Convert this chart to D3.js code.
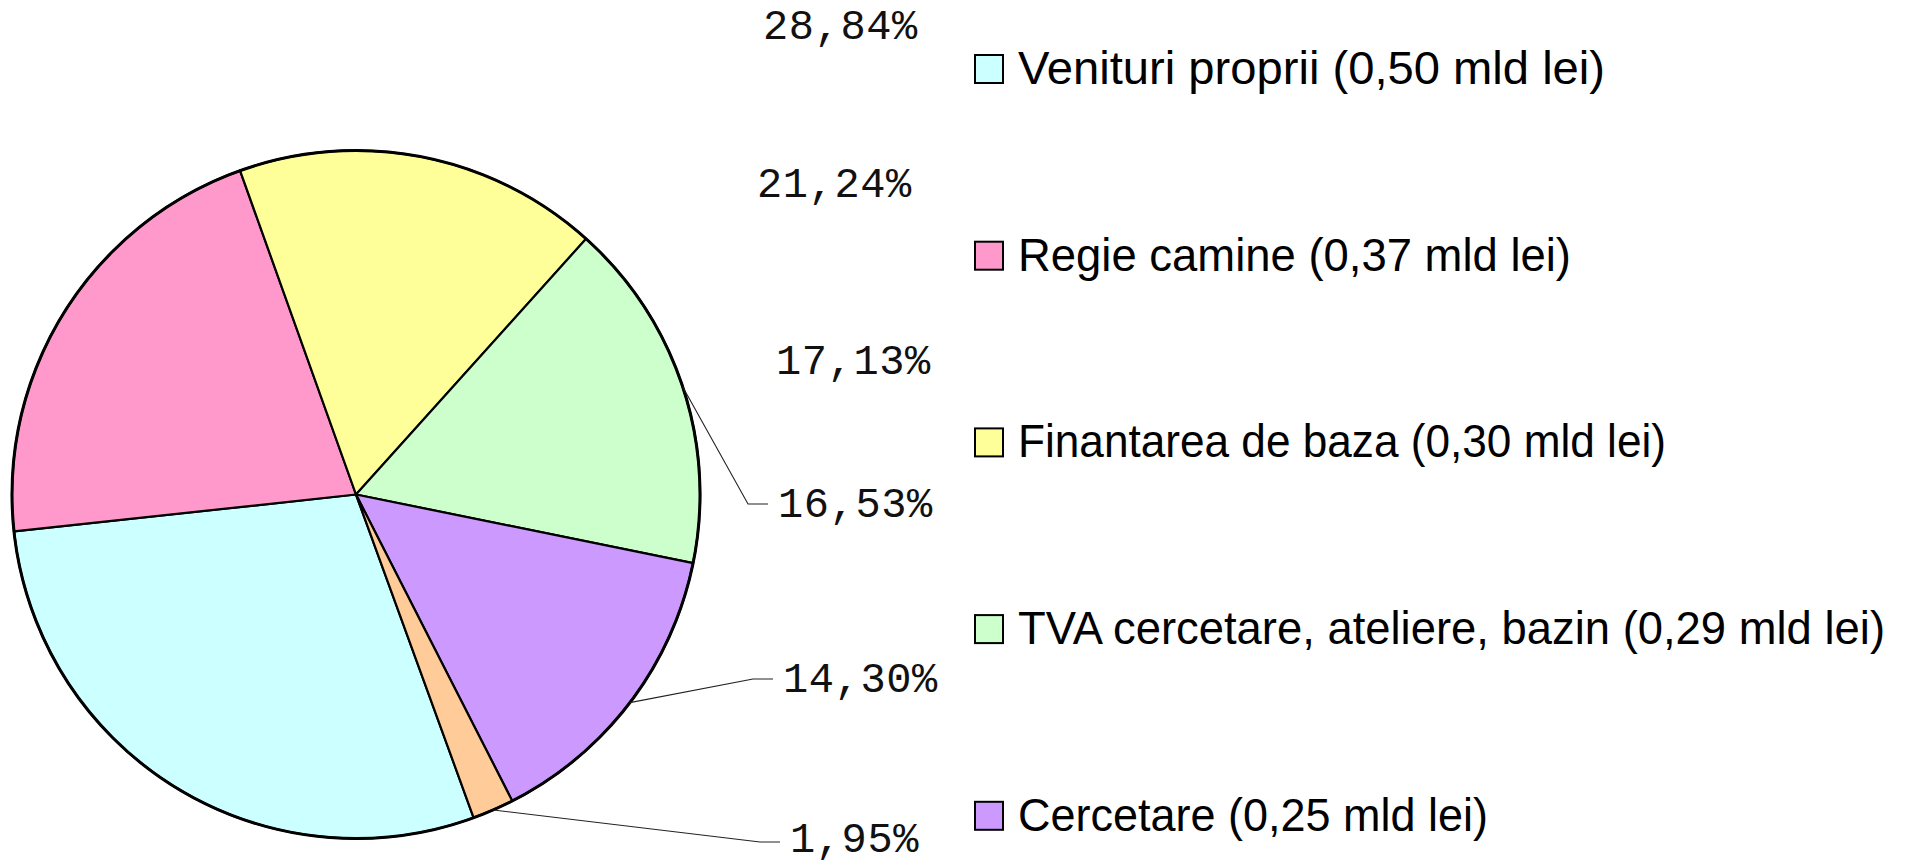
<!DOCTYPE html>
<html>
<head>
<meta charset="utf-8">
<script src="https://cdn.jsdelivr.net/npm/d3@7"></script>
<style>
  html, body { margin: 0; padding: 0; background: #ffffff; }
  svg { display: block; }
</style>
</head>
<body>
<svg id="chart" width="1909" height="865"></svg>
<script>
// ---- data ----
const categories = [
  "Venituri proprii",
  "Regie camine",
  "Finantarea de baza",
  "TVA cercetare, ateliere, bazin",
  "Cercetare",
  "Alte surse"
];
const amounts = ["0,50", "0,37", "0,30", "0,29", "0,25", "0,03"];
const shares = [28.84, 21.24, 17.13, 16.53, 14.30, 1.95];
const shareLabels = ["28,84%", "21,24%", "17,13%", "16,53%", "14,30%", "1,95%"];
const colors = ["#CCFFFF", "#FF99CC", "#FFFF99", "#CCFFCC", "#CC99FF", "#FFCC99"];
const legendCount = 5; // the sixth legend entry falls outside the picture

// ---- layout ----
const W = 1909, H = 865;
const cx = 356, cy = 494.5, R = 344;
const startDeg = 160;
const labelPlaces = [
  { x: 763, y: 39, leader: false },
  { x: 757, y: 197, leader: false },
  { x: 776, y: 374, leader: false },
  { x: 778, y: 517, leader: true },
  { x: 783, y: 692, leader: true },
  { x: 790, y: 852, leader: true }
];
const legendX = 975, legendY0 = 69, legendStep = 186.7, box = 28;
const legendTextWidths = [587, 553, 648, 867, 470];

const svg = d3.select("#chart");
const data = shares.map((v, i) => ({ name: categories[i], value: v, i }));

const pie = d3.pie()
  .value(d => d.value)
  .sort(null)
  .startAngle(startDeg * Math.PI / 180)
  .endAngle((startDeg + 360) * Math.PI / 180);
const arcs = pie(data);
const arc = d3.arc().innerRadius(0).outerRadius(R);

const g = svg.append("g").attr("transform", `translate(${cx},${cy})`);
g.selectAll("path.slice")
  .data(arcs)
  .join("path")
  .attr("class", "slice")
  .attr("d", arc)
  .attr("fill", d => colors[d.data.i])
  .attr("stroke", "#000")
  .attr("stroke-width", 2.2)
  .attr("stroke-linejoin", "round");
g.append("circle")
  .attr("r", R)
  .attr("fill", "none")
  .attr("stroke", "#000")
  .attr("stroke-width", 3);

// ---- percentage labels ----
const lbl = svg.append("g");
arcs.forEach((a, k) => {
  const p = labelPlaces[k];
  if (p.leader) {
    const mid = (a.startAngle + a.endAngle) / 2;
    const sx = cx + R * Math.sin(mid);
    const sy = cy - R * Math.cos(mid);
    const ly = k === 5 ? p.y - 10 : p.y - 13;
    lbl.append("polyline")
      .attr("points", `${sx},${sy} ${p.x - 30},${ly} ${p.x - 10},${ly}`)
      .attr("fill", "none")
      .attr("stroke", "#222")
      .attr("stroke-width", 1.1);
  }
  lbl.append("text")
    .attr("x", p.x)
    .attr("y", p.y)
    .attr("font-family", "'Liberation Mono', 'Courier New', monospace")
    .attr("font-size", 42)
    .attr("letter-spacing", 0.6)
    .attr("fill", "#111")
    .text(shareLabels[k]);
});

// ---- legend ----
const leg = svg.append("g");
data.slice(0, legendCount).forEach((d, i) => {
  const y = legendY0 + i * legendStep;
  leg.append("rect")
    .attr("x", legendX)
    .attr("y", y - box / 2)
    .attr("width", box)
    .attr("height", box)
    .attr("fill", colors[i])
    .attr("stroke", "#000")
    .attr("stroke-width", 2);
  leg.append("text")
    .attr("x", legendX + 43)
    .attr("y", y + 15)
    .attr("font-family", "'Liberation Sans', Arial, sans-serif")
    .attr("font-size", 46)
    .attr("textLength", legendTextWidths[i])
    .attr("lengthAdjust", "spacingAndGlyphs")
    .attr("fill", "#000")
    .text(`${d.name} (${amounts[i]} mld lei)`);
});
</script>
</body>
</html>
